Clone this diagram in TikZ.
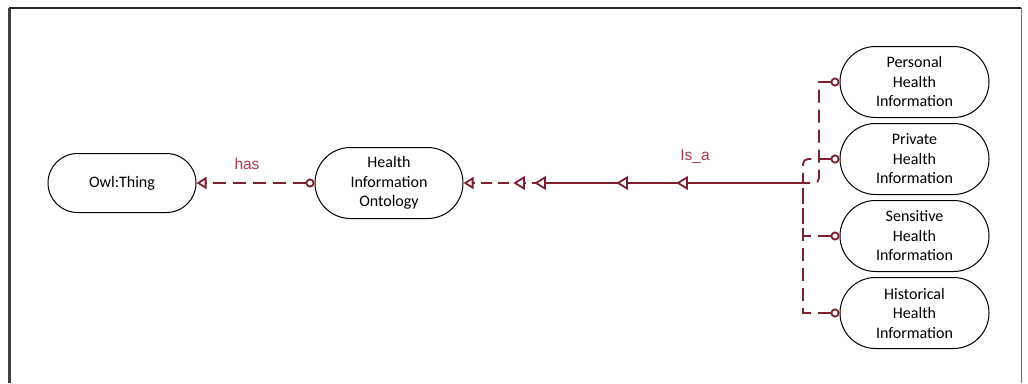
\documentclass[tikz,border=0pt]{standalone}
\usepackage{fontspec}
\setmainfont{Carlito}
\newfontfamily\labelfont{Liberation Sans}
\usetikzlibrary{arrows.meta,decorations.markings}
\definecolor{linkred}{HTML}{7E1F2F}
\definecolor{labelred}{HTML}{A63A4A}

% open triangle drawn along the shared trunk
\newcommand{\openhead}{\draw[linkred, line width=1.8pt, solid, fill=white, line join=miter] (0,0) -- (-9pt,5.5pt) -- (-9pt,-5.5pt) -- cycle;}

\begin{document}
\begin{tikzpicture}[x=1pt,y=-1pt,
  term/.style={draw=black, line width=1pt, rounded corners=#1, minimum height=2*#1,
    minimum width=148pt, inner sep=0pt, align=center,
    font=\fontsize{16}{19.5}\selectfont},
  link/.style={draw=linkred, line width=1.8pt},
  dashlink/.style={link, dash pattern=on 13pt off 7pt},
  startcirc/.style={{Circle[open,length=9pt,width=9pt,line width=1.8pt]}-},
  endtri/.style={-{Triangle[open,length=10pt,width=12pt,line width=1.8pt]}},
  bothtips/.style={{Circle[open,length=9pt,width=9pt,line width=1.8pt]}-{Triangle[open,length=10pt,width=12pt,line width=1.8pt]}},
  lbl/.style={text=labelred, font=\labelfont\fontsize{15.5}{18}\selectfont, inner sep=0pt}
]
\useasboundingbox (0,0) rectangle (1028,383);

% page frame
\draw[line width=1.5pt, black!85] (9,8) -- (1021,8);
\draw[line width=2.5pt, black!75] (9.5,7.5) -- (9.5,383);
\draw[line width=0.8pt, black!55] (1021,8) -- (1021,383);

% classes
\node[term=29.5pt] (owl) at (122,183) {Owl:Thing};
\node[term=35.5pt] (hio) at (389,183) {Health\\Information\\Ontology};
\node[term=35.5pt, minimum width=149pt] (pers) at (914.5,82) {Personal\\Health\\Information};
\node[term=35.5pt, minimum width=149pt] (priv) at (914.5,159) {Private\\Health\\Information};
\node[term=35.5pt, minimum width=149pt] (sens) at (914.5,236) {Sensitive\\Health\\Information};
\node[term=35.5pt, minimum width=149pt] (hist) at (914.5,313) {Historical\\Health\\Information};

% "has" relation
\draw[dashlink, bothtips] (hio.west) -- (owl.east);
\node[lbl] (haslbl) at (247,164) {has};

% "Is_a" relations meeting at a junction
\coordinate (j) at (803,183);
\coordinate (pc) at (819,183);
\coordinate (m) at (543,183);

\draw[dashlink, startcirc] (pers.west) -- (pers.west -| pc) [rounded corners=5pt] -- (pc) -- (j);
\draw[dashlink, startcirc, rounded corners=5pt] (priv.west) -| (j);
\draw[dashlink, startcirc] (sens.west) -| (j);
\draw[dashlink, startcirc] (hist.west) -| (j);

\draw[link] (j) -- (m);
\draw[link, dash pattern=on 11pt off 6pt, endtri] (m) -- (hio.east);
\path[postaction={decorate}, decoration={markings,
    mark=at position 125pt with {\openhead},
    mark=at position 185pt with {\openhead},
    mark=at position 267pt with {\openhead},
    mark=at position 288pt with {\openhead}}] (j) -- (hio.east);
\node[lbl] (isalbl) at (695,157) {Is\_a};
\end{tikzpicture}
\end{document}
